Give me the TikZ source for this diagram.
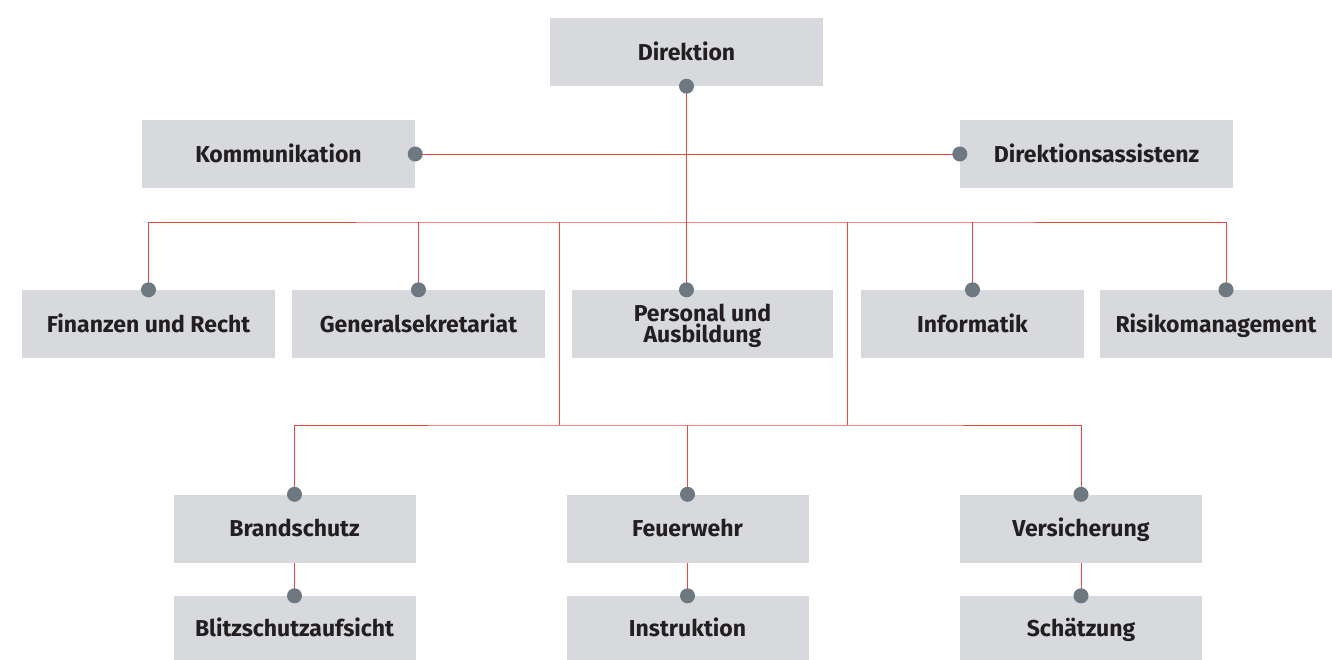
\documentclass[tikz,border=0pt]{standalone}
\usepackage{fontspec}
\setmainfont{Fira Sans}
\definecolor{boxgray}{HTML}{D7D9DD}
\definecolor{dotgray}{HTML}{6E7880}
\definecolor{linered}{HTML}{EA4B3F}
\definecolor{txt}{HTML}{231F20}
\tikzset{
  orgbox/.style={fill=boxgray, draw=none, text=txt, align=center, inner sep=0pt,
    font=\bfseries\fontsize{23}{21}\selectfont, minimum height=68pt,
    text height=16pt, text depth=0pt},
  conn/.style={draw=linered, line width=1pt},
  dotmark/.style={fill=dotgray, draw=none},
}
\begin{document}
\begin{tikzpicture}[x=1pt,y=-1pt]
\useasboundingbox (0,0) rectangle (1332,659);
% boxes
\node[orgbox, minimum width=273pt] (dir) at (686.5,52) {Direktion};
\node[orgbox, minimum width=273pt] (kom) at (278.5,154) {Kommunikation};
\node[orgbox, minimum width=273pt] (das) at (1096.5,154) {Direktionsassistenz};
\node[orgbox, minimum width=253pt] (fin) at (148.5,324) {Finanzen und Recht};
\node[orgbox, minimum width=253pt] (gen) at (418.5,324) {Generalsekretariat};
\node[orgbox, minimum width=261pt, text height=37pt] (per) at (702.5,324) {Personal und\\Ausbildung};
\node[orgbox, minimum width=223pt] (inf) at (972.5,324) {Informatik};
\node[orgbox, minimum width=232pt] (ris) at (1216,324) {Risikomanagement};
\node[orgbox, minimum width=242pt] (bra) at (294.5,528.5) {Brandschutz};
\node[orgbox, minimum width=242pt] (feu) at (687.5,528.5) {Feuerwehr};
\node[orgbox, minimum width=242pt] (ver) at (1081,528.5) {Versicherung};
\node[orgbox, minimum width=242pt, minimum height=64pt] (bli) at (294.5,628) {Blitzschutzaufsicht};
\node[orgbox, minimum width=242pt, minimum height=64pt] (ins) at (687.5,628) {Instruktion};
\node[orgbox, minimum width=242pt, minimum height=64pt] (sch) at (1081,628) {Schätzung};
% dot positions
\coordinate (dirdot) at (dir.south);
\coordinate (komdot) at (kom.east);
\coordinate (dasdot) at (das.west);
\coordinate (findot) at (fin.north);
\coordinate (gendot) at (gen.north);
\coordinate (perdot) at (per.north -| dir.south);
\coordinate (infdot) at (inf.north);
\coordinate (risdot) at ([xshift=10pt]ris.north);
\coordinate (bradot) at (bra.north);
\coordinate (feudot) at (feu.north);
\coordinate (verdot) at (ver.north);
\coordinate (blidot) at (bli.north);
\coordinate (insdot) at (ins.north);
\coordinate (schdot) at (sch.north);
\coordinate (jl) at (559,222);
\coordinate (jr) at (847,222);
\coordinate (ll) at (559,425);
\coordinate (lr) at (847,425);
% connectors
\draw[conn] (dirdot) -- (perdot);
\draw[conn] (komdot) -- (dasdot);
\draw[conn] (findot) |- (jl) -- (jr) -| (risdot);
\draw[conn] (gendot) -- (gendot |- jl);
\draw[conn] (infdot) -- (infdot |- jl);
\draw[conn] (jl) -- (ll);
\draw[conn] (jr) -- (lr);
\draw[conn] (bradot) |- (ll) -- (lr) -| (verdot);
\draw[conn] (feudot) -- (feudot |- ll);
\draw[conn] (bra.south) -- (blidot);
\draw[conn] (feu.south) -- (insdot);
\draw[conn] (ver.south) -- (schdot);
% dots
\foreach \d in {dirdot,komdot,dasdot,findot,gendot,perdot,infdot,risdot,bradot,feudot,verdot,blidot,insdot,schdot}
  \fill[dotmark] (\d) circle (7.5pt);
\end{tikzpicture}
\end{document}
